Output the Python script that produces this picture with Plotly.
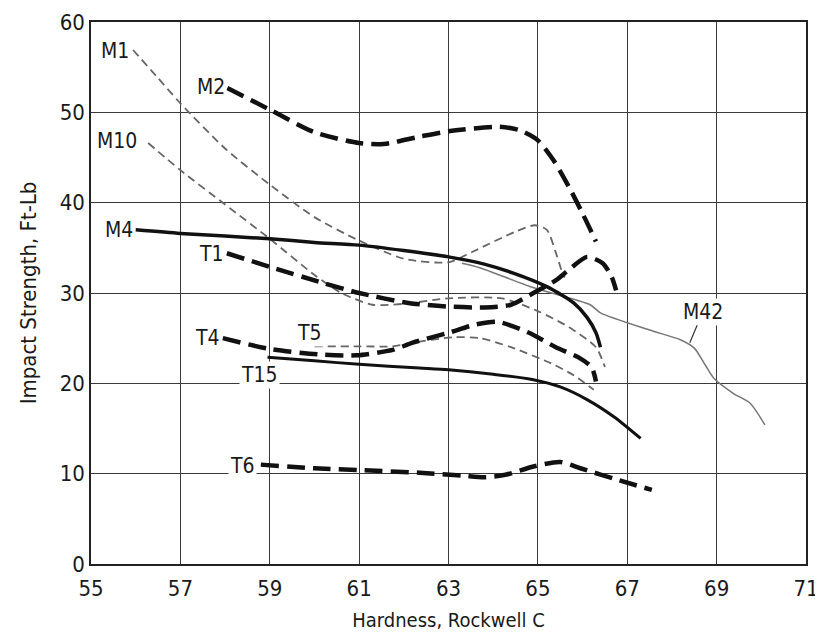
import plotly.graph_objects as go

# ---- data (Hardness HRC, Impact strength ft-lb) ----
m1_x = [55.94, 56.5, 57.0, 58.0, 59.0, 60.0, 61.0, 62.0, 63.0, 63.55, 64.5, 64.93, 65.2, 65.4, 65.55, 65.6]
m1_y = [56.9, 53.8, 51.0, 46.0, 42.0, 38.4, 35.8, 33.8, 33.4, 34.6, 36.8, 37.5, 37.0, 34.5, 32.2, 31.7]

m2_x = [58.05, 59.0, 60.0, 61.0, 61.55, 62.35, 63.0, 64.15, 64.6, 65.0, 65.35, 65.7, 66.0, 66.3]
m2_y = [52.7, 50.3, 47.8, 46.6, 46.5, 47.3, 47.9, 48.4, 48.0, 46.9, 44.7, 41.7, 38.8, 35.7]

m10_x = [56.28, 57.0, 58.0, 59.0, 60.0, 60.6, 61.3, 62.0, 63.0, 64.2, 65.0, 65.7, 66.3, 66.5]
m10_y = [46.6, 43.6, 39.8, 36.0, 32.0, 30.0, 28.7, 28.8, 29.4, 29.4, 28.0, 26.2, 24.0, 21.8]

m4_x = [56.0, 57.0, 58.0, 59.0, 60.0, 61.0, 62.0, 63.0, 63.8, 64.45, 65.2, 65.8, 66.1, 66.3, 66.4]
m4_y = [37.0, 36.6, 36.3, 36.0, 35.6, 35.3, 34.7, 34.0, 33.2, 32.2, 30.7, 28.9, 27.3, 25.6, 24.0]

t1_x = [58.04, 59.0, 60.2, 61.0, 62.1, 63.0, 63.8, 64.4, 64.9, 65.4, 65.7, 66.1, 66.45, 66.65, 66.75]
t1_y = [34.4, 32.9, 31.1, 30.0, 28.9, 28.5, 28.4, 28.7, 30.0, 31.4, 32.6, 34.0, 33.3, 31.8, 30.3]

t4_x = [57.95, 59.0, 60.1, 60.95, 61.75, 62.2, 63.0, 63.6, 64.1, 64.8, 65.4, 65.9, 66.2, 66.3]
t4_y = [25.0, 23.8, 23.2, 23.1, 23.7, 24.5, 25.6, 26.5, 26.8, 25.6, 24.0, 22.9, 21.8, 20.2]

t5_x = [60.0, 61.0, 61.75, 62.2, 63.1, 63.7, 64.4, 65.3, 65.8, 66.25]
t5_y = [24.1, 24.1, 24.1, 24.5, 25.1, 25.0, 24.0, 22.2, 20.9, 19.3]

t15_x = [58.95, 60.0, 61.0, 62.35, 63.0, 64.0, 64.9, 65.5, 66.1, 66.7, 67.3]
t15_y = [22.9, 22.5, 22.1, 21.7, 21.5, 21.0, 20.4, 19.6, 18.2, 16.3, 13.9]

t6_x = [58.8, 60.0, 61.0, 62.35, 63.3, 63.8, 64.3, 64.9, 65.5, 65.95, 66.8, 67.55]
t6_y = [11.0, 10.6, 10.4, 10.1, 9.8, 9.6, 9.9, 10.8, 11.3, 10.6, 9.3, 8.2]

m42_x = [63.3, 63.7, 64.89, 66.17, 66.4, 67.5, 68.2, 68.5, 68.75, 68.95, 69.37, 69.75, 70.08]
m42_y = [33.3, 32.8, 30.6, 28.7, 27.8, 25.9, 24.8, 23.9, 22.0, 20.5, 18.9, 17.8, 15.4]

label_text = ["M1", "M2", "M10", "M4", "T1", "T4", "T5", "T15", "T6"]
label_x = [55.54, 57.69, 55.58, 55.63, 57.7, 57.6, 59.9, 58.78, 58.4]
label_y = [56.8, 52.8, 46.8, 37.0, 34.3, 25.0, 25.6, 20.9, 10.85]

x_ticks = [55, 57, 59, 61, 63, 65, 67, 69, 71]
y_ticks = [0, 10, 20, 30, 40, 50, 60]

FONT = "Liberation Sans Narrow, DejaVu Sans Condensed, Arial Narrow, sans-serif"

thick_dash = dict(color="#111111", width=4.5, dash="18px,8px")
thin_dash = dict(color="#666666", width=1.8, dash="8px,5px")
solid_thick = dict(color="#111111", width=3.5)
solid_thin = dict(color="#777777", width=1.5)

series = [
    (m1_x, m1_y, thin_dash),
    (m10_x, m10_y, thin_dash),
    (t5_x, t5_y, thin_dash),
    (m42_x, m42_y, solid_thin),
    (m2_x, m2_y, thick_dash),
    (t1_x, t1_y, thick_dash),
    (t4_x, t4_y, thick_dash),
    (t6_x, t6_y, thick_dash),
    (m4_x, m4_y, solid_thick),
    (t15_x, t15_y, dict(color="#111111", width=3.0)),
]

fig = go.Figure()
for xs, ys, ln in series:
    l = dict(ln)
    l["shape"] = "spline"
    l["smoothing"] = 0.7
    fig.add_trace(go.Scatter(x=xs, y=ys, mode="lines", line=l,
                             showlegend=False, hoverinfo="skip"))

for t, x, y in zip(label_text, label_x, label_y):
    fig.add_annotation(x=x, y=y, xref="x", yref="y", text=t, showarrow=False,
                       bgcolor="white", borderpad=1,
                       font=dict(family=FONT, size=21, color="#1a1a1a"))

fig.add_annotation(x=68.4, y=24.5, xref="x", yref="y", text="M42",
                   showarrow=True, arrowhead=0, arrowwidth=1.2, arrowcolor="#333",
                   ax=13, ay=-31, bgcolor="white", borderpad=1,
                   font=dict(family=FONT, size=21, color="#1a1a1a"))

axis_common = dict(showgrid=True, gridcolor="#3a3a3a", gridwidth=1,
                   showline=True, linecolor="#222", linewidth=1.5, mirror=True,
                   zeroline=False, ticks="", automargin=False,
                   tickfont=dict(family=FONT, size=22, color="#1a1a1a"))

fig.update_xaxes(range=[55, 71], tickvals=x_ticks, ticktext=[str(v) for v in x_ticks],
                 ticklabelstandoff=4,
                 title=dict(text="Hardness, Rockwell C", standoff=13,
                            font=dict(family=FONT, size=20, color="#1a1a1a")),
                 **axis_common)
fig.update_yaxes(range=[0, 60], tickvals=y_ticks, ticktext=[str(v) for v in y_ticks],
                 title=dict(text="Impact Strength, Ft-Lb", standoff=17,
                            font=dict(family=FONT, size=22, color="#1a1a1a")),
                 **axis_common)

# page body has an 8px margin; plot area aimed at x 91..806, y 22..564 on screen
fig.update_layout(width=823, height=639,
                  margin=dict(l=83, r=25, t=14, b=83),
                  plot_bgcolor="white", paper_bgcolor="white")

fig.write_html("out.html")
